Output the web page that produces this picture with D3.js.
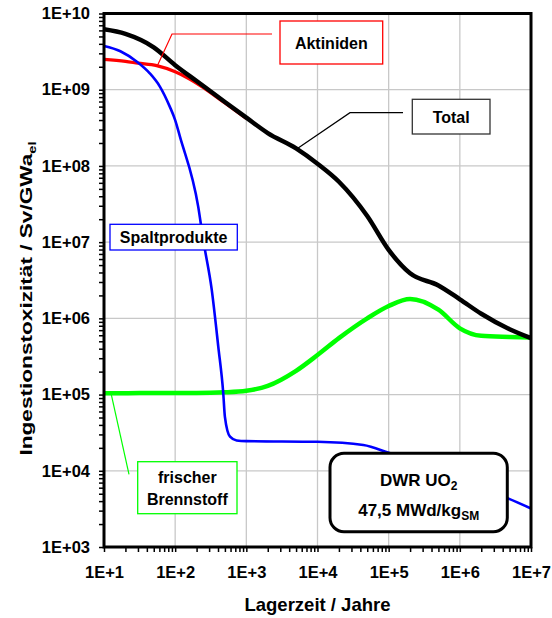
<!DOCTYPE html>
<html>
<head>
<meta charset="utf-8">
<script src="https://cdn.jsdelivr.net/npm/d3@7"></script>
<style>
  body { margin: 0; background: #fff; }
  svg text { font-family: "Liberation Sans", Arial, sans-serif; font-weight: bold; }
</style>
</head>
<body>
<svg id="chart" width="552" height="618"></svg>
<script>
// years after discharge
var years = [10, 20, 50, 100, 200, 500, 1e3, 2e3, 5e3, 1e4, 2e4, 5e4, 1e5, 2e5, 5e5, 1e6, 2e6, 5e6, 1e7];

// Sv/GWa_el
var total = [6.2e9, 5.4e9, 3.6e9, 2.1e9, 1.3e9, 6.9e8, 4.3e8, 2.7e8, 1.7e8, 1.07e8, 6.2e7, 2.2e7, 7.9e6, 3.9e6, 2.7e6, 1.78e6, 1.15e6, 7.2e5, 5.5e5];
var frisch = [1.04e5, 1.04e5, 1.05e5, 1.05e5, 1.05e5, 1.07e5, 1.12e5, 1.3e5, 2.05e5, 3.3e5, 5.5e5, 1.0e6, 1.45e6, 1.8e6, 1.3e6, 7.4e5, 5.9e5, 5.7e5, 5.6e5];

var aktYears = [10, 20, 30, 55, 100, 160, 220, 500, 1e3];
var aktiniden = [2.5e9, 2.35e9, 2.23e9, 2.07e9, 1.72e9, 1.38e9, 1.15e9, 6.7e8, 4.2e8];

var spaltYears = [10, 17, 29, 44, 61, 84, 100, 117, 211, 248, 326, 403, 474, 500, 590, 730, 1e3, 1e4, 4.4e4, 1e5, 3e5, 1e6, 2e6, 4.6e6, 1e7];
var spalt = [3.75e9, 3.2e9, 2.33e9, 1.64e9, 1.1e9, 6e8, 4e8, 2.4e8, 2.9e7, 1.07e7, 2.4e6, 4.3e5, 1.04e5, 5.1e4, 2.8e4, 2.5e4, 2.45e4, 2.4e4, 2.18e4, 1.72e4, 1.2e4, 7.8e3, 5.9e3, 4.4e3, 3.2e3];

var xTicks = [1e1, 1e2, 1e3, 1e4, 1e5, 1e6, 1e7];
var xTickLabels = ["1E+1", "1E+2", "1E+3", "1E+4", "1E+5", "1E+6", "1E+7"];
var yTicks = [1e3, 1e4, 1e5, 1e6, 1e7, 1e8, 1e9, 1e10];
var yTickLabels = ["1E+03", "1E+04", "1E+05", "1E+06", "1E+07", "1E+08", "1E+09", "1E+10"];

var svg = d3.select("#chart");

var pl = 104, pr = 531, pt = 13.5, pb = 547;

var x = d3.scaleLog().domain([10, 1e7]).range([pl, pr]);
var y = d3.scaleLog().domain([1e3, 1e10]).range([pb, pt]);

function minors(ticks) {
    var out = [];
    ticks.forEach(function (t, i) {
        if (i == ticks.length - 1) { out.push(t); return; }
        for (var k = 1; k < 10; k++) out.push(t * k);
    });
    return out;
}

// grid
svg.append("g").selectAll("line")
    .data(xTicks.slice(1, -1)).enter().append("line")
    .attr("x1", d => x(d)).attr("x2", d => x(d))
    .attr("y1", pt).attr("y2", pb)
    .attr("stroke", "#c8c8c8").attr("stroke-width", 1.3);
svg.append("g").selectAll("line")
    .data(yTicks.slice(1, -1)).enter().append("line")
    .attr("x1", pl).attr("x2", pr)
    .attr("y1", d => y(d)).attr("y2", d => y(d))
    .attr("stroke", "#c8c8c8").attr("stroke-width", 1.3);

// axes
var xAxis = d3.axisBottom(x)
    .tickValues(minors(xTicks))
    .tickFormat(d => { var i = xTicks.indexOf(d); return i < 0 ? "" : xTickLabels[i]; })
    .tickSize(5).tickPadding(14);
var yAxis = d3.axisLeft(y)
    .tickValues(minors(yTicks))
    .tickFormat(d => { var i = yTicks.indexOf(d); return i < 0 ? "" : yTickLabels[i]; })
    .tickSize(5).tickPadding(9);

var gx = svg.append("g").attr("transform", "translate(0," + pb + ")").call(xAxis);
var gy = svg.append("g").attr("transform", "translate(" + pl + ",0)").call(yAxis);
[gx, gy].forEach(function (g) {
    g.select(".domain").remove();
    g.selectAll(".tick line").attr("stroke", "#000").attr("stroke-width", 1.5);
    g.selectAll(".tick text").attr("fill", "#000").style("font-size", "16.5px");
});

// curves
var line = d3.line().x(d => x(d[0])).y(d => y(d[1])).curve(d3.curveMonotoneX);

function draw(xs, ys, color, w) {
    svg.append("path")
        .datum(xs.map((v, i) => [v, ys[i]]))
        .attr("d", line)
        .attr("fill", "none")
        .attr("stroke", color)
        .attr("stroke-width", w)
        .attr("stroke-linejoin", "round");
}
draw(years, frisch, "#00ff00", 4.5);
draw(aktYears, aktiniden, "#ff0000", 3.2);
draw(spaltYears, spalt, "#0000ff", 2.6);
draw(years, total, "#000000", 4.5);

// frame
svg.append("rect")
    .attr("x", pl).attr("y", pt)
    .attr("width", pr - pl).attr("height", pb - pt)
    .attr("fill", "none").attr("stroke", "#000").attr("stroke-width", 3);

// labels with leader lines
function leader(pts, color) {
    svg.append("path")
        .attr("d", d3.line()(pts))
        .attr("fill", "none").attr("stroke", color).attr("stroke-width", 1.2);
}
function label(bx, by, bw, bh, color, lines) {
    svg.append("rect")
        .attr("x", bx).attr("y", by).attr("width", bw).attr("height", bh)
        .attr("fill", "#fff").attr("stroke", color).attr("stroke-width", 1.3);
    lines.forEach(function (t, i) {
        svg.append("text")
            .attr("x", bx + bw / 2)
            .attr("y", by + bh / 2 + 6 + (i - (lines.length - 1) / 2) * 22)
            .attr("text-anchor", "middle")
            .style("font-size", "16px")
            .text(t);
    });
}

leader([[272, 34], [172, 34], [x(56), y(2.05e9)]], "#ff0000");
label(280, 21, 102.7, 43, "#ff0000", ["Aktiniden"]);

leader([[403, 112.7], [350, 112.7], [x(5100), y(1.67e8)]], "#000");
label(412.3, 99.3, 77.7, 34.7, "#333", ["Total"]);

label(110, 224.3, 127.3, 25.7, "#0000ff", ["Spaltprodukte"]);

leader([[x(12.4), y(1.09e5)], [129, 474.3]], "#00ff00");
label(137.7, 461.7, 99.3, 52, "#00ff00", ["frischer", "Brennstoff"]);

// DWR box
svg.append("rect")
    .attr("x", 330).attr("y", 453.3).attr("width", 177.3).attr("height", 78.4)
    .attr("rx", 14).attr("ry", 14)
    .attr("fill", "#fff").attr("stroke", "#000").attr("stroke-width", 3);
var t1 = svg.append("text").attr("x", 418.7).attr("y", 486).attr("text-anchor", "middle").style("font-size", "17px");
t1.append("tspan").text("DWR UO");
t1.append("tspan").attr("dy", 4).style("font-size", "12px").text("2");
var t2 = svg.append("text").attr("x", 418.7).attr("y", 516).attr("text-anchor", "middle").style("font-size", "17px");
t2.append("tspan").text("47,5 MWd/kg");
t2.append("tspan").attr("dy", 4).style("font-size", "12px").text("SM");

// axis titles
svg.append("text")
    .attr("x", (pl + pr) / 2).attr("y", 611)
    .attr("text-anchor", "middle")
    .style("font-size", "18.5px")
    .text("Lagerzeit / Jahre");

// y title is drawn stretched along its direction, like the original
var yt = svg.append("text")
    .attr("transform", "translate(32,298.5) rotate(-90) scale(1.33,1)")
    .attr("text-anchor", "middle")
    .style("font-size", "17px");
yt.append("tspan").text("Ingestionstoxizität / Sv/GWa");
yt.append("tspan").attr("dy", 4).style("font-size", "11px").text("el");
</script>
</body>
</html>
